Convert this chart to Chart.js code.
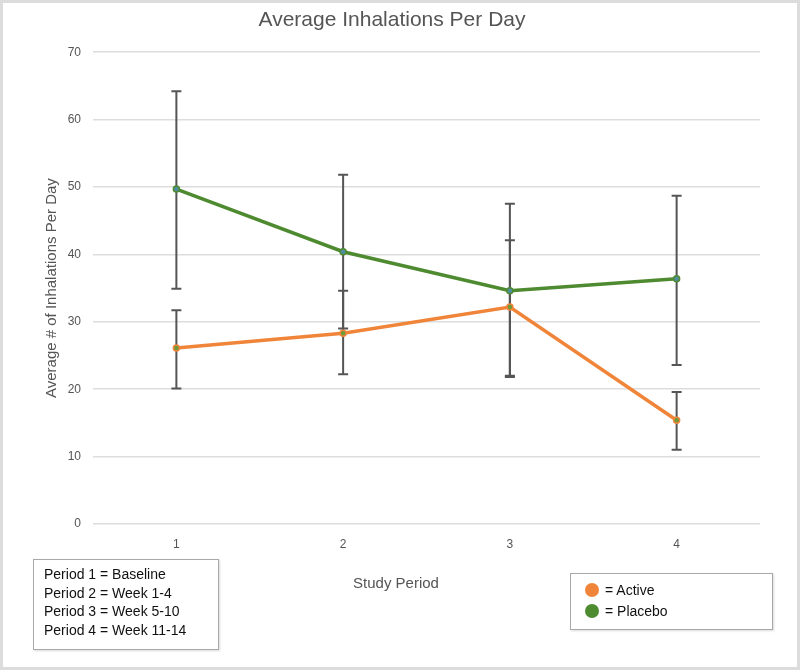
<!DOCTYPE html>
<html>
<head>
<meta charset="utf-8">
<script src="https://cdn.jsdelivr.net/npm/chart.js@4/dist/chart.umd.min.js"></script>
<style>
  html, body { margin: 0; padding: 0; background: #fff; }
  #wrap { position: relative; width: 800px; height: 670px; font-family: "Liberation Sans", Arial, sans-serif; }
  #frame { position: absolute; left: 0; top: 0; width: 800px; height: 670px; box-sizing: border-box; border: 3px solid #dcdcdc; pointer-events: none; }
  #periods { position: absolute; left: 33px; top: 559px; width: 186px; height: 91px; box-sizing: border-box; border: 1.5px solid #a8a8a8; padding: 5px 0 0 10px; font-size: 14px; line-height: 18.5px; color: #111; box-shadow: 1px 1px 2px rgba(0,0,0,0.15); }
  #legend { position: absolute; left: 570px; top: 573px; width: 203px; height: 57px; box-sizing: border-box; border: 1.5px solid #a8a8a8; font-size: 14px; color: #111; box-shadow: 1px 1px 2px rgba(0,0,0,0.15); }
  #xtitle { position: absolute; left: 296px; width: 200px; top: 573px; text-align: center; font-size: 15px; line-height: 20px; color: #555; }
  .li { position: absolute; left: 14px; height: 16px; line-height: 16px; }
  .dot { display: inline-block; width: 14px; height: 14px; border-radius: 50%; vertical-align: middle; margin-right: 6px; position: relative; top: -1px; }
</style>
</head>
<body>
<div id="wrap">
  <canvas id="c" width="800" height="670"></canvas>
  <div id="periods"></div>
  <div id="xtitle"></div>
  <div id="legend"></div>
  <div id="frame"></div>
</div>
<script>
// ---- data ----
const periods = ['1', '2', '3', '4'];
const activeMean   = [26.1, 28.3, 32.2, 15.4];
const activeUpper  = [31.7, 34.6, 42.1, 19.6];
const activeLower  = [20.1, 22.2, 22.0, 11.0];
const placeboMean  = [49.7, 40.4, 34.6, 36.4];
const placeboUpper = [64.2, 51.8, 47.5, 48.7];
const placeboLower = [34.9, 29.0, 21.8, 23.6];
const periodNotes = ['Period 1 = Baseline', 'Period 2 = Week 1-4', 'Period 3 = Week 5-10', 'Period 4 = Week 11-14'];
const seriesNames = ['Active', 'Placebo'];
const xAxisTitle = 'Study Period';

const ORANGE = '#F0853A';
const GREEN = '#4E8A30';

// overlays
document.getElementById('periods').innerHTML = periodNotes.map(t => '<div>' + t + '</div>').join('');
document.getElementById('xtitle').textContent = xAxisTitle;
const legendColors = [ORANGE, GREEN];
document.getElementById('legend').innerHTML = seriesNames.map((n, i) =>
  '<div class="li" style="top:' + (8 + i * 21) + 'px"><span class="dot" style="background:' + legendColors[i] + '"></span>= ' + n + '</div>').join('');

const errorBars = {
  id: 'errorBars',
  beforeDatasetsDraw(chart) {
    const ctx = chart.ctx;
    const xs = chart.scales.x, ys = chart.scales.y;
    const sets = [[activeUpper, activeLower], [placeboUpper, placeboLower]];
    ctx.save();
    ctx.strokeStyle = '#555';
    ctx.lineWidth = 2;
    sets.forEach(([up, lo]) => {
      up.forEach((u, i) => {
        const x = xs.getPixelForValue(i);
        const yt = ys.getPixelForValue(u);
        const yb = ys.getPixelForValue(lo[i]);
        ctx.beginPath();
        ctx.moveTo(x, yt); ctx.lineTo(x, yb);
        ctx.moveTo(x - 5, yt); ctx.lineTo(x + 5, yt);
        ctx.moveTo(x - 5, yb); ctx.lineTo(x + 5, yb);
        ctx.stroke();
      });
    });
    ctx.restore();
  }
};

new Chart(document.getElementById('c'), {
  type: 'line',
  data: {
    labels: periods,
    datasets: [
      { label: seriesNames[0], data: activeMean, borderColor: ORANGE, backgroundColor: ORANGE,
        borderWidth: 3.5, pointRadius: 3, pointBackgroundColor: '#6f9a3a', pointBorderColor: ORANGE, pointBorderWidth: 1.5, tension: 0 },
      { label: seriesNames[1], data: placeboMean, borderColor: GREEN, backgroundColor: GREEN,
        borderWidth: 3.5, pointRadius: 3, pointBackgroundColor: '#4f8ea0', pointBorderColor: GREEN, pointBorderWidth: 1.5, tension: 0 }
    ]
  },
  options: {
    responsive: false,
    animation: false,
    layout: { padding: { left: 0, right: 16, top: 0, bottom: 0 } },
    plugins: {
      legend: { display: false },
      tooltip: { enabled: false },
      title: {
        display: true, text: 'Average Inhalations Per Day', color: '#555',
        font: { family: '"Liberation Sans", Arial, sans-serif', size: 21, weight: 'normal' },
        padding: { top: 8, bottom: 19 }
      }
    },
    scales: {
      x: {
        type: 'category', offset: true,
        grid: { display: false, drawTicks: false },
        border: { display: false },
        ticks: { color: '#555', padding: 13, font: { family: '"Liberation Sans", Arial, sans-serif', size: 12 } },
        afterFit(s) { s.height = 146; }
      },
      y: {
        min: 0, max: 70,
        grid: { color: '#dddddd', lineWidth: 1.5, drawTicks: false },
        border: { display: false },
        ticks: { stepSize: 10, color: '#555', padding: 12, font: { family: '"Liberation Sans", Arial, sans-serif', size: 12 } },
        title: { display: true, text: 'Average # of Inhalations Per Day', color: '#555',
          font: { family: '"Liberation Sans", Arial, sans-serif', size: 15 }, padding: { top: 43, bottom: 0 } },
        afterFit(s) { s.width = 93; }
      },
      yRight: {
        position: 'right', min: 0, max: 70,
        grid: { display: false, drawTicks: false },
        border: { display: false },
        ticks: { display: false },
        afterFit(s) { s.width = 24; }
      }
    }
  },
  plugins: [errorBars]
});
</script>
</body>
</html>
